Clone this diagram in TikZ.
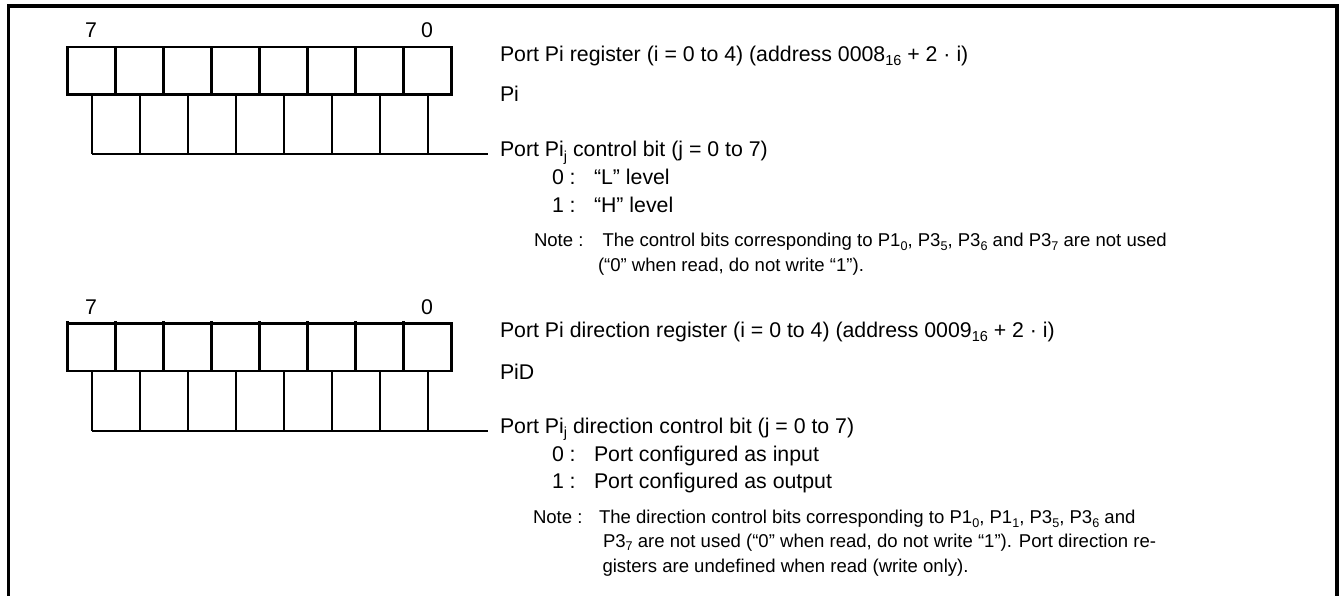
\documentclass[tikz,border=0pt]{standalone}
\usepackage{fontspec}
\setmainfont{Liberation Sans}
\tikzset{
  x=1pt,y=-1pt,
  reg/.style={line width=2.7pt,draw=black,fill=white,minimum width=48pt,minimum height=47.5pt,inner sep=0pt,outer sep=0pt,anchor=north west},
  thin line/.style={line width=2pt},
  big/.style={font=\fontsize{21.3}{25}\selectfont,anchor=base west,inner sep=0pt,outer sep=0pt},
  small/.style={font=\fontsize{18.55}{22}\selectfont,anchor=base west,inner sep=0pt,outer sep=0pt},
  bitlabel/.style={font=\fontsize{21.3}{25}\selectfont,anchor=base,inner sep=0pt,outer sep=0pt},
}
\newcommand{\sbs}[1]{\raisebox{-.38ex}{\scalebox{.68}{#1}}}
\begin{document}
\begin{tikzpicture}
\useasboundingbox (0,0) rectangle (1339,596);
\fill[white] (0,0) rectangle (1339,596);
\draw[line width=3.6pt] (8.5,596) -- (8.5,6) -- (1337,6) -- (1337,596);
% top register
\foreach \i in {0,...,7} {
  \pgfmathsetmacro{\xx}{67.5+48*\i}
  \node[reg] (a\i) at (\xx,47) {};
  \draw[thin line,xshift=-0.3pt] (a\i.south) -- ++(0,59.5) coordinate (ab\i);
}
\coordinate (aend) at (488,154);
\draw[thin line] (ab0) -- (aend);
\node[bitlabel] at (91,38) {7};
\node[bitlabel] at (427,38) {0};
% bottom register
\foreach \i in {0,...,7} {
  \pgfmathsetmacro{\xx}{67.5+48*\i}
  \node[reg] (b\i) at (\xx,323.5) {};
  \draw[line width=2.3pt] (b\i.north west) -- ++(0,-2.2);
  \draw[thin line,xshift=-0.3pt] (b\i.south) -- ++(0,60) coordinate (bb\i);
}
\coordinate (bend) at (488,431);
\draw[thin line] (bb0) -- (bend);
\node[bitlabel] at (91,314) {7};
\node[bitlabel] at (427,314) {0};
% top texts
\node[big] at (500,61.5) {Port Pi register (i = 0 to 4) (address 0008\sbs{16} + 2 · i)};
\node[big] at (500,102) {Pi};
\node[big] at (500,157) {Port Pi\sbs{j} control bit (j = 0 to 7)};
\node[big] at (552,185) {0 :};
\node[big] at (594,185) {“L” level};
\node[big] at (552,213) {1 :};
\node[big] at (594,213) {“H” level};
\node[small] at (534,247) {Note :};
\node[small] at (602.5,247) {The control bits corresponding to P1\sbs{0}, P3\sbs{5}, P3\sbs{6} and P3\sbs{7} are not used};
\node[small] at (598,272) {(“0” when read, do not write “1”).};
% bottom texts
\node[big] at (500,337) {Port Pi direction register (i = 0 to 4) (address 0009\sbs{16} + 2 · i)};
\node[big] at (500,379) {PiD};
\node[big] at (500,433) {Port Pi\sbs{j} direction control bit (j = 0 to 7)};
\node[big] at (552,461.5) {0 :};
\node[big] at (594,461.5) {Port configured as input};
\node[big] at (552,488.5) {1 :};
\node[big] at (594,488.5) {Port configured as output};
\node[small] at (533,523.5) {Note :};
\node[small] at (599,523.5) {The direction control bits corresponding to P1\sbs{0}, P1\sbs{1}, P3\sbs{5}, P3\sbs{6} and};
\node[small] at (603,547) {P3\sbs{7} are not used (“0” when read, do not write “1”). Port direction re-};
\node[small] at (602.5,572) {gisters are undefined when read (write only).};
\end{tikzpicture}
\end{document}
